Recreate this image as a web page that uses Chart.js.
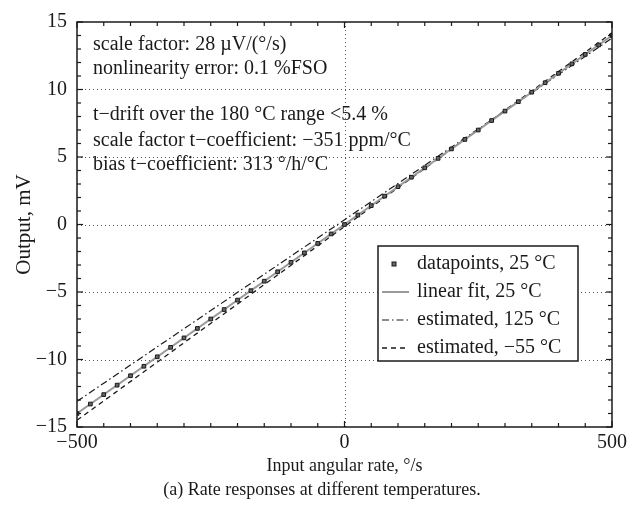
<!DOCTYPE html>
<html>
<head>
<meta charset="utf-8">
<script src="https://cdn.jsdelivr.net/npm/chart.js@4/dist/chart.umd.min.js"></script>
<style>
  html,body{margin:0;padding:0;background:#fff;}
  #wrap{width:641px;height:520px;position:relative;}
</style>
</head>
<body>
<div id="wrap"><canvas id="c" width="641" height="520"></canvas></div>
<script>
// ---- data ----
const rates = [-500,-475,-450,-425,-400,-375,-350,-325,-300,-275,-250,-225,-200,-175,-150,-125,-100,-75,-50,-25,0,25,50,75,100,125,150,175,200,225,250,275,300,325,350,375,400,425,450,475,500];
const output25 = [-14.0,-13.3,-12.6,-11.9,-11.2,-10.5,-9.8,-9.1,-8.4,-7.7,-7.0,-6.3,-5.6,-4.9,-4.2,-3.5,-2.8,-2.1,-1.4,-0.7,0.0,0.7,1.4,2.1,2.8,3.5,4.2,4.9,5.6,6.3,7.0,7.7,8.4,9.1,9.8,10.5,11.2,11.9,12.6,13.3,14.0];
const fitX = [-500, 500];
const fit25 = [-14.0, 14.0];
const est125 = [-13.1, 13.8];
const estM55 = [-14.5, 14.2];
const seriesLabels = ['datapoints, 25 °C','linear fit, 25 °C','estimated, 125 °C','estimated, −55 °C'];
const xTicks = [-500, 0, 500];
const yTicks = [-15,-10,-5,0,5,10,15];
const notes = ['scale factor: 28 µV/(°/s)','nonlinearity error: 0.1 %FSO','t−drift over the 180 °C range <5.4 %','scale factor t−coefficient: −351 ppm/°C','bias t−coefficient: 313 °/h/°C'];
const xTitle = 'Input angular rate, °/s';
const yTitle = 'Output, mV';
const caption = '(a) Rate responses at different temperatures.';

const FONT = '"Liberation Serif","DejaVu Serif",serif';
const INK = '#1a1a1a';

const pts = (xs, ys) => xs.map((x,i)=>({x, y: ys[i]}));
const fmt = v => v < 0 ? '\u2212' + Math.abs(v) : String(v);

const styles = [
  {type:'marker'},
  {color:'#9a9a9a', width:2, dash:[]},
  {color:INK, width:1.2, dash:[7,3,1.5,3]},
  {color:INK, width:1.3, dash:[5,4]}
];

const deco = {
  id:'deco',
  beforeDatasetsDraw(chart){
    const {ctx, chartArea:a, scales:{x,y}} = chart;
    ctx.save();
    ctx.strokeStyle = '#555';
    ctx.lineWidth = 1;
    ctx.setLineDash([1,3]);
    xTicks.forEach(v=>{ if(v>-500 && v<500){ const px=Math.round(x.getPixelForValue(v))+0.5; ctx.beginPath(); ctx.moveTo(px,a.top); ctx.lineTo(px,a.bottom); ctx.stroke(); }});
    yTicks.forEach(v=>{ if(v>-15 && v<15){ const py=Math.round(y.getPixelForValue(v))+0.5; ctx.beginPath(); ctx.moveTo(a.left,py); ctx.lineTo(a.right,py); ctx.stroke(); }});
    ctx.restore();
  },
  afterDatasetsDraw(chart){
    const {ctx, chartArea:a, scales:{x,y}} = chart;
    ctx.save();
    ctx.setLineDash([]);
    ctx.strokeStyle = INK;
    ctx.lineWidth = 1.5;
    ctx.strokeRect(a.left, a.top, a.right-a.left, a.bottom-a.top);
    ctx.lineWidth = 1.2;
    for(let v=-500; v<=500; v+=50){
      const px = x.getPixelForValue(v);
      const len = (v%500===0)?6:4;
      ctx.beginPath(); ctx.moveTo(px,a.bottom); ctx.lineTo(px,a.bottom-len); ctx.stroke();
      ctx.beginPath(); ctx.moveTo(px,a.top); ctx.lineTo(px,a.top+len); ctx.stroke();
    }
    for(let v=-15; v<=15; v+=1){
      const py = y.getPixelForValue(v);
      const len = (v%5===0)?6:4;
      ctx.beginPath(); ctx.moveTo(a.left,py); ctx.lineTo(a.left+len,py); ctx.stroke();
      ctx.beginPath(); ctx.moveTo(a.right,py); ctx.lineTo(a.right-len,py); ctx.stroke();
    }
    ctx.restore();
  },
  afterDraw(chart){
    const {ctx, chartArea:a} = chart;
    ctx.save();
    ctx.fillStyle = INK;
    ctx.font = '20px ' + FONT;
    ctx.textAlign = 'left';
    ctx.textBaseline = 'middle';
    const noteY = [45, 69, 115, 141, 165];
    notes.forEach((t,i)=>ctx.fillText(t, 93, noteY[i]));
    // legend
    const lx=378, ly=246, lw=200, lh=115;
    ctx.fillStyle = '#fff';
    ctx.fillRect(lx,ly,lw,lh);
    ctx.strokeStyle = INK; ctx.lineWidth = 1.5; ctx.setLineDash([]);
    ctx.strokeRect(lx,ly,lw,lh);
    ctx.font = '20px ' + FONT;
    const rowY = [264, 292, 320, 348];
    seriesLabels.forEach((t,i)=>{
      const st = styles[i];
      if(st.type==='marker'){
        ctx.fillStyle='#666'; ctx.strokeStyle=INK; ctx.lineWidth=1;
        ctx.fillRect(392,rowY[i]-2,4,4); ctx.strokeRect(392,rowY[i]-2,4,4);
      } else {
        ctx.strokeStyle=st.color; ctx.lineWidth=st.width; ctx.setLineDash(st.dash);
        ctx.beginPath(); ctx.moveTo(382,rowY[i]); ctx.lineTo(409,rowY[i]); ctx.stroke();
        ctx.setLineDash([]);
      }
      ctx.fillStyle=INK;
      ctx.fillText(t, 417, rowY[i]);
    });
    ctx.textAlign='center';
    ctx.font = '18px ' + FONT;
    ctx.fillText(xTitle, (a.left+a.right)/2, 466);
    ctx.fillText(caption, 322, 490);
    ctx.font = '21px ' + FONT;
    ctx.translate(24, (a.top+a.bottom)/2);
    ctx.rotate(-Math.PI/2);
    ctx.fillText(yTitle, 0, 0);
    ctx.restore();
  }
};

new Chart(document.getElementById('c'), {
  type:'scatter',
  data:{
    datasets:[
      {label:seriesLabels[0], data:pts(rates, output25), showLine:false, pointStyle:'rect', pointRadius:2.6, pointBackgroundColor:'#666', pointBorderColor:INK, pointBorderWidth:1},
      {label:seriesLabels[1], data:pts(fitX, fit25), showLine:true, borderColor:styles[1].color, borderWidth:styles[1].width, pointRadius:0},
      {label:seriesLabels[2], data:pts(fitX, est125), showLine:true, borderColor:styles[2].color, borderWidth:styles[2].width, borderDash:styles[2].dash, pointRadius:0},
      {label:seriesLabels[3], data:pts(fitX, estM55), showLine:true, borderColor:styles[3].color, borderWidth:styles[3].width, borderDash:styles[3].dash, pointRadius:0}
    ]
  },
  options:{
    responsive:false,
    animation:false,
    events:[],
    layout:{padding:{top:14,right:29,left:0,bottom:0}},
    plugins:{legend:{display:false}, tooltip:{enabled:false}},
    scales:{
      x:{type:'linear', min:-500, max:500,
         afterBuildTicks(s){ s.ticks = xTicks.map(v=>({value:v})); },
         afterFit(s){ s.height = 93; },
         grid:{display:false, drawTicks:false}, border:{display:false},
         ticks:{font:{family:FONT,size:20}, color:INK, padding:4, callback:fmt, maxRotation:0}},
      y:{type:'linear', min:-15, max:15,
         afterBuildTicks(s){ s.ticks = yTicks.map(v=>({value:v})); },
         afterFit(s){ s.width = 77; },
         grid:{display:false, drawTicks:false}, border:{display:false},
         ticks:{font:{family:FONT,size:20}, color:INK, padding:10, callback:fmt}}
    }
  },
  plugins:[deco]
});
</script>
</body>
</html>
